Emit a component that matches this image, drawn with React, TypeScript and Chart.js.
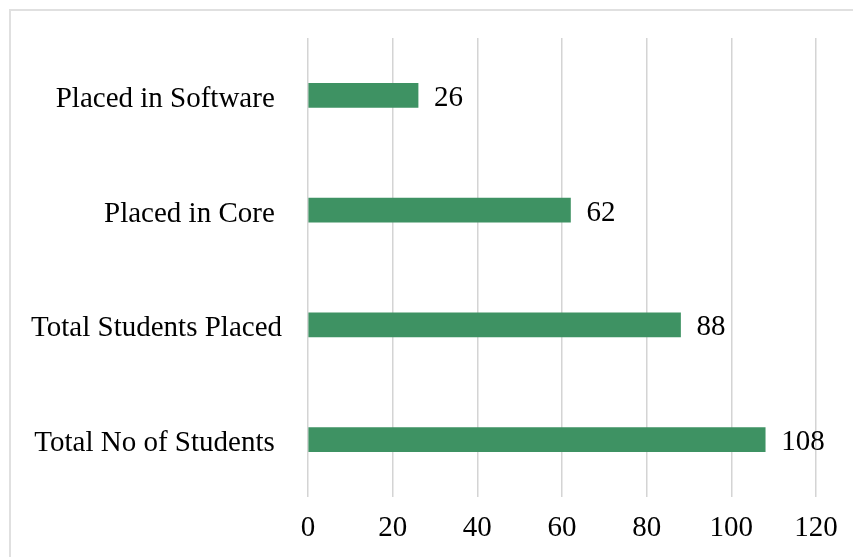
import React, { useEffect, useRef } from "react";
import { Chart, registerables } from "chart.js";

Chart.register(...registerables);

const categories = ["Placed in Software ", "Placed in Core ", "Total Students Placed", "Total No of Students "];
const values = [26, 62, 88, 108];
const xTicks = [0, 20, 40, 60, 80, 100, 120];

const FONT = "'Liberation Serif', 'Times New Roman', serif";
const FS = 29;

export default function App() {
  const ref = useRef<HTMLCanvasElement | null>(null);
  useEffect(() => {
    if (!ref.current) return;
    const labelPlugin = {
      id: "valueLabels",
      afterDatasetsDraw(chart: any) {
        const ctx = chart.ctx;
        const meta = chart.getDatasetMeta(0);
        ctx.save();
        ctx.font = `${FS}px ${FONT}`;
        ctx.fillStyle = "#000";
        ctx.textAlign = "left";
        ctx.textBaseline = "middle";
        meta.data.forEach((bar: any, i: number) => {
          ctx.fillText(String(values[i]), bar.x + 16, bar.y + 3);
        });
        ctx.restore();
      },
    };
    const chart = new Chart(ref.current, {
      type: "bar",
      data: {
        labels: categories,
        datasets: [
          {
            data: values,
            backgroundColor: "#3e9263",
            barThickness: 24,
          },
        ],
      },
      options: {
        indexAxis: "y",
        animation: false,
        responsive: false,
        layout: { padding: { top: 38, right: 37, left: 0, bottom: 0 } },
        plugins: { legend: { display: false }, tooltip: { enabled: false } },
        scales: {
          x: {
            min: 0,
            max: 120,
            afterBuildTicks(scale: any) {
              scale.ticks = xTicks.map((v) => ({ value: v }));
            },
            afterFit(scale: any) {
              scale.height = 60;
            },
            grid: { color: "#d4d4d4", lineWidth: 1.5, drawTicks: false },
            border: { display: false },
            ticks: {
              color: "#000",
              font: { family: FONT, size: FS },
              padding: 14,
            },
          },
          y: {
            afterFit(scale: any) {
              scale.width = 308;
              scale.paddingTop = 0;
              scale.paddingBottom = 0;
            },
            grid: { display: false, drawTicks: false },
            border: { display: false },
            ticks: {
              color: "#000",
              font: { family: FONT, size: FS },
              padding: 26,
              labelOffset: 4,
            },
          },
        },
      },
      plugins: [labelPlugin],
    });
    return () => chart.destroy();
  }, []);
  return (
    <div style={{ position: "fixed", left: 0, top: 0, width: 853, height: 557, background: "#fff" }}>
      <div
        style={{
          position: "absolute",
          left: 9,
          top: 9,
          width: 860,
          height: 560,
          borderTop: "2px solid #e0e0e0",
          borderLeft: "2px solid #e0e0e0",
        }}
      />
      <canvas ref={ref} width={853} height={557} style={{ position: "absolute", left: 0, top: 0 }} />
    </div>
  );
}
